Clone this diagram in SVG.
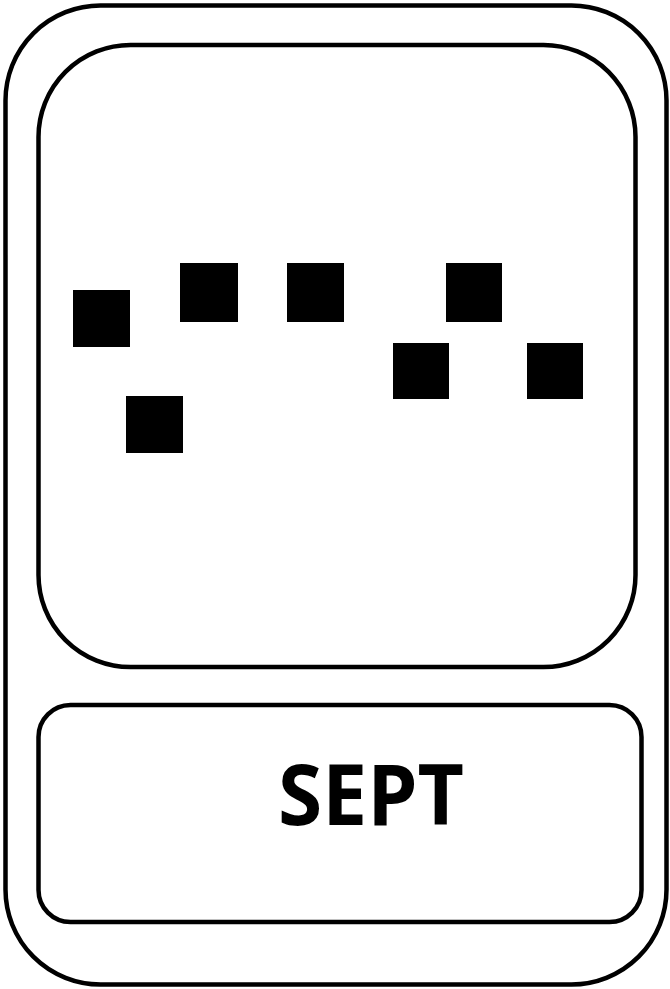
<svg xmlns="http://www.w3.org/2000/svg" width="670" height="989" viewBox="0 0 670 989">
<style>
.frame{fill:#fff;stroke:#000;stroke-width:4.5}
.sq{fill:#000}
.lbl{font-family:"Open Sans","Liberation Sans",sans-serif;font-weight:bold;font-size:84px;fill:#000}
</style>
<rect width="670" height="989" fill="#fff"/>
<g id="outer"><rect class="frame" x="5.5" y="5.5" width="661" height="979" rx="95" ry="95"/></g>
<g id="top-panel"><rect class="frame" x="38.5" y="45" width="597" height="622" rx="92" ry="92"/></g>
<g id="bottom-panel"><rect class="frame" x="38.5" y="705" width="603" height="217" rx="32" ry="32"/>
<text class="lbl" x="278" y="825" textLength="186" lengthAdjust="spacingAndGlyphs">SEPT</text></g>
<g id="squares">
<rect id="sq1" class="sq" x="73" y="290" width="57" height="57"/>
<rect id="sq2" class="sq" x="180" y="263" width="58" height="59"/>
<rect id="sq3" class="sq" x="287" y="263" width="57" height="59"/>
<rect id="sq4" class="sq" x="126" y="396" width="57" height="57"/>
<rect id="sq5" class="sq" x="446" y="263" width="56" height="59"/>
<rect id="sq6" class="sq" x="393" y="343" width="56" height="56"/>
<rect id="sq7" class="sq" x="527" y="343" width="56" height="56"/>
</g>
</svg>
